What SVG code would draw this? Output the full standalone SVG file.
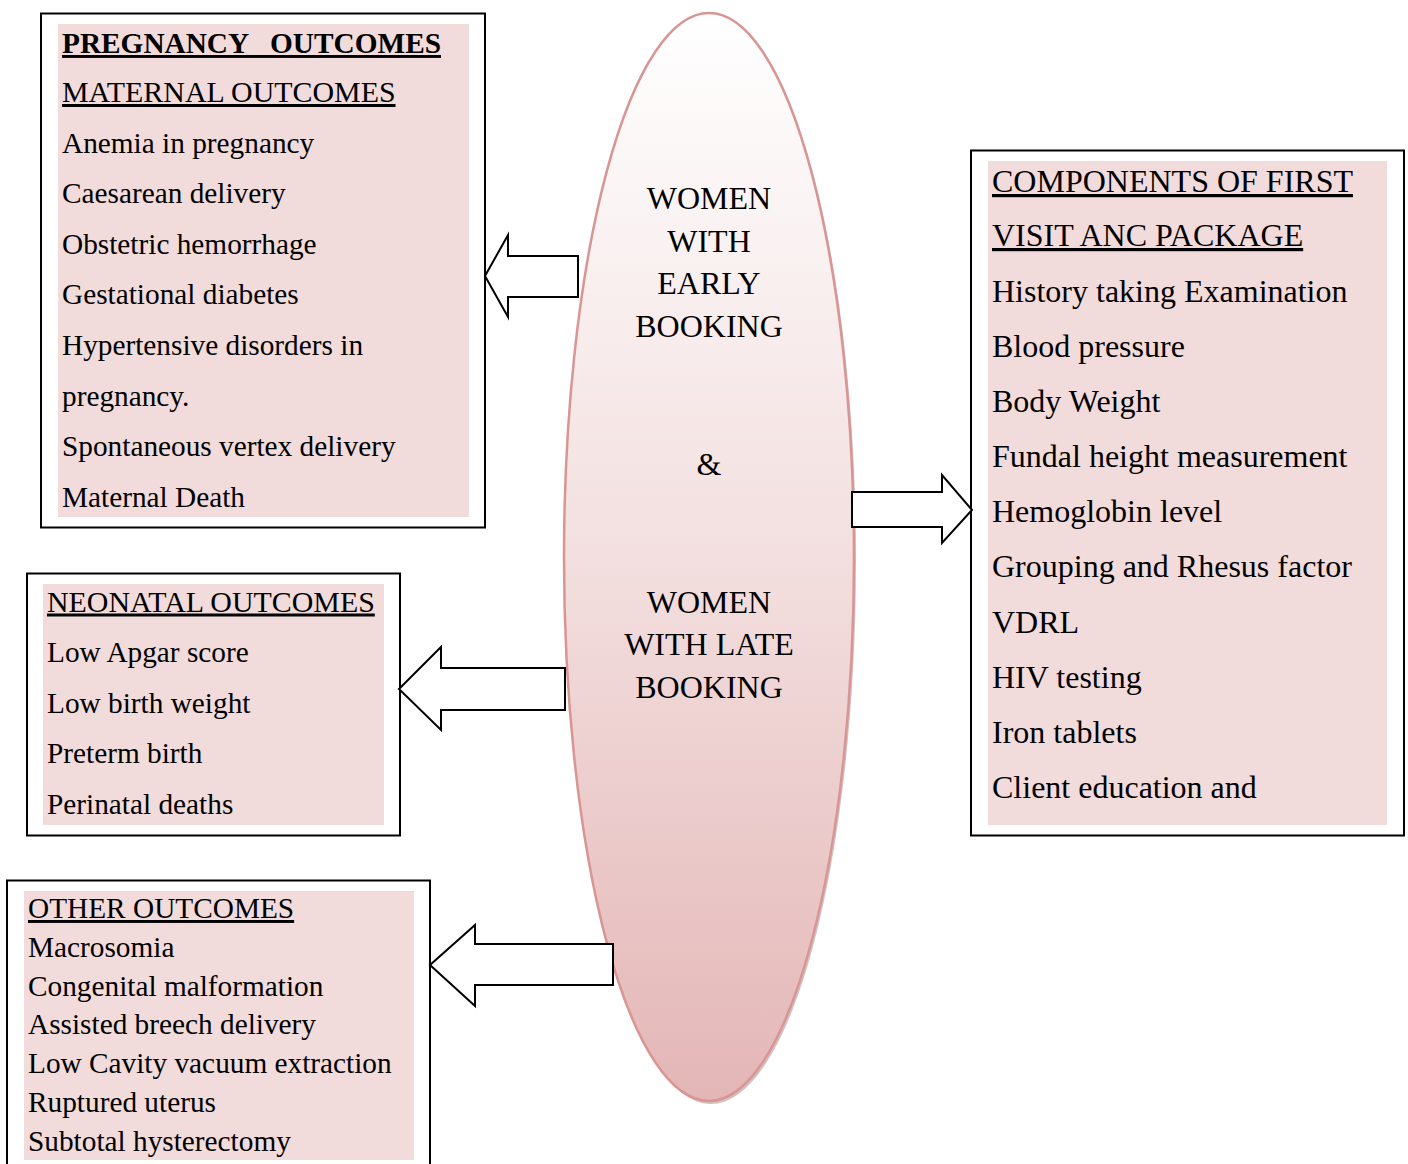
<svg xmlns="http://www.w3.org/2000/svg" width="1408" height="1164" viewBox="0 0 1408 1164">
<defs>
<linearGradient id="eg" x1="0" y1="0" x2="0" y2="1">
<stop offset="0" stop-color="#FFFFFF"/>
<stop offset="0.5" stop-color="#F3DFDF"/>
<stop offset="1" stop-color="#E4B6B6"/>
</linearGradient>
<style>
.outer{fill:#FFFFFF;stroke:#000;stroke-width:2}
.pink{fill:#F2DBDB}
.t{font-family:"Liberation Serif","Times New Roman",serif;font-size:29.3px;fill:#000}
.t4{font-family:"Liberation Serif","Times New Roman",serif;font-size:32px;fill:#000}
.h{font-size:29.9px}
.u{text-decoration:underline}
.b{font-weight:bold}
.c{font-family:"Liberation Serif","Times New Roman",serif;font-size:32px;fill:#000;text-anchor:middle}
.arrow{fill:#FFFFFF;stroke:#000;stroke-width:2;stroke-linejoin:miter}
</style>
</defs>
<rect width="1408" height="1164" fill="#FFFFFF"/>

<g id="center">
<ellipse cx="711" cy="560" rx="145" ry="544" fill="#B08C8C" opacity="0.55"/>
<ellipse cx="709" cy="557" rx="145" ry="544" fill="url(#eg)" stroke="#D99594" stroke-width="2.5"/>
<text class="c" x="709" y="209">WOMEN</text>
<text class="c" x="709" y="252">WITH</text>
<text class="c" x="709" y="294">EARLY</text>
<text class="c" x="709" y="337">BOOKING</text>
<text class="c" x="709" y="475">&amp;</text>
<text class="c" x="709" y="613">WOMEN</text>
<text class="c" x="709" y="655">WITH LATE</text>
<text class="c" x="709" y="698">BOOKING</text>
</g>

<g id="pregnancy-outcomes">
<rect class="outer" x="41" y="13.5" width="444" height="514"/>
<rect class="pink" x="58" y="24" width="411" height="493"/>
<text class="t b u" x="62" y="53" xml:space="preserve">PREGNANCY   OUTCOMES</text>
<text class="t h u" x="62" y="102">MATERNAL OUTCOMES</text>
<text class="t" x="62" y="152.6">Anemia in pregnancy</text>
<text class="t" x="62" y="203.2">Caesarean delivery</text>
<text class="t" x="62" y="253.8">Obstetric hemorrhage</text>
<text class="t" x="62" y="304.4">Gestational diabetes</text>
<text class="t" x="62" y="355">Hypertensive disorders in</text>
<text class="t" x="62" y="405.6">pregnancy.</text>
<text class="t" x="62" y="456.2">Spontaneous vertex delivery</text>
<text class="t" x="62" y="506.8">Maternal Death</text>
</g>

<g id="neonatal-outcomes">
<rect class="outer" x="27" y="573.5" width="373" height="262"/>
<rect class="pink" x="43" y="584" width="341" height="241"/>
<text class="t h u" x="47" y="611.5">NEONATAL OUTCOMES</text>
<text class="t" x="47" y="662">Low Apgar score</text>
<text class="t" x="47" y="712.5">Low birth weight</text>
<text class="t" x="47" y="763">Preterm birth</text>
<text class="t" x="47" y="813.5">Perinatal deaths</text>
</g>

<g id="other-outcomes">
<rect class="outer" x="7" y="880.5" width="423" height="300"/>
<rect class="pink" x="24" y="891" width="390" height="269"/>
<text class="t u" x="28" y="918">OTHER OUTCOMES</text>
<text class="t" x="28" y="957">Macrosomia</text>
<text class="t" x="28" y="995.6">Congenital malformation</text>
<text class="t" x="28" y="1034.4">Assisted breech delivery</text>
<text class="t" x="28" y="1073.2">Low Cavity vacuum extraction</text>
<text class="t" x="28" y="1112">Ruptured uterus</text>
<text class="t" x="28" y="1150.8">Subtotal hysterectomy</text>
</g>

<g id="anc-components">
<rect class="outer" x="971" y="150.5" width="433" height="685"/>
<rect class="pink" x="988" y="161" width="399" height="664"/>
<text class="t4 u" x="992" y="192">COMPONENTS OF FIRST</text>
<text class="t4 u" x="992" y="246">VISIT ANC PACKAGE</text>
<text class="t4" x="992" y="301.5">History taking Examination</text>
<text class="t4" x="992" y="356.6">Blood pressure</text>
<text class="t4" x="992" y="411.8">Body Weight</text>
<text class="t4" x="992" y="467">Fundal height measurement</text>
<text class="t4" x="992" y="522.2">Hemoglobin level</text>
<text class="t4" x="992" y="577.4">Grouping and Rhesus factor</text>
<text class="t4" x="992" y="632.6">VDRL</text>
<text class="t4" x="992" y="687.8">HIV testing</text>
<text class="t4" x="992" y="743">Iron tablets</text>
<text class="t4" x="992" y="798.2">Client education and</text>
</g>

<g id="connectors">
<polygon class="arrow" points="485,276 508,235 508,256 578,256 578,297 508,297 508,317"/>
<polygon class="arrow" points="852,492 942,492 942,475 972,510 942,543 942,527 852,527"/>
<polygon class="arrow" points="399,689 441,647 441,668 565,668 565,710 441,710 441,730"/>
<polygon class="arrow" points="430,965 475,925 475,944 613,944 613,985 475,985 475,1006"/>
</g>
</svg>
